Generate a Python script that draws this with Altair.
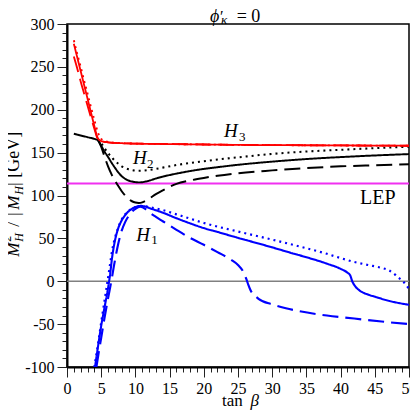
import altair as alt
import pandas as pd

# ---------------- data ----------------
h3_solid_x = [1, 1.5, 2, 2.5, 3, 3.5, 4, 4.5, 5, 6, 8, 10, 15, 20, 25, 30, 35, 40, 45, 50]
h3_solid_y = [277, 261, 245, 229, 213, 197, 181, 167, 163.5, 162, 161, 160.5, 160, 159.5, 159, 158.8, 158.6, 158.4, 158.2, 158]
h3_dash_x = [1, 1.5, 2, 2.5, 3, 3.5, 4, 4.5, 5, 6, 8, 10, 15, 20, 25, 30, 35, 40, 45, 50]
h3_dash_y = [262, 248, 233, 219, 205, 191, 178, 166, 163.5, 162, 161, 160.5, 160, 159.5, 159, 158.8, 158.6, 158.4, 158.2, 158]
h3_dot_x = [1, 1.5, 2, 2.5, 3, 3.5, 4, 4.5, 5, 5.5, 6, 8, 10, 15, 20, 25, 30, 35, 40, 45, 50]
h3_dot_y = [281, 265, 250, 234, 219, 203, 188, 174, 166, 163.5, 162.5, 161, 160.5, 160, 159.5, 159, 158.8, 158.6, 158.4, 158.2, 158]

h2_solid_x = [1, 2, 3, 4, 4.5, 5, 5.5, 6, 6.5, 7, 7.5, 8, 8.5, 9, 9.5, 10, 10.5, 11, 11.5, 12, 13, 14, 16, 18, 20, 22, 25, 30, 35, 40, 45, 50]
h2_solid_y = [172, 170, 168, 166, 164.5, 158, 151, 145, 138.5, 132.5, 127, 122.5, 119.5, 117.5, 116.3, 115.6, 115.3, 115.5, 116.3, 117.3, 119.8, 122, 125.5, 128.5, 131, 133, 135.8, 139.5, 142.5, 144.8, 146.7, 148.3]
h2_dot_x = [4.5, 5, 5.5, 6, 6.5, 7, 7.5, 8, 8.5, 9, 9.5, 10, 10.5, 11, 12, 13, 14, 16, 18, 20, 22, 25, 30, 35, 40, 45, 50]
h2_dot_y = [165.5, 161, 155, 149.5, 145, 140.5, 137, 134, 132, 130.5, 129.5, 129, 128.8, 129, 129.8, 131, 132.5, 135.5, 138, 140, 142, 144.5, 148.5, 151.3, 153.3, 155.2, 157]
h2_dash_x = [4.5, 5, 5.5, 6, 6.5, 7, 7.5, 8, 8.5, 9, 9.5, 10, 10.5, 11, 11.5, 12, 13, 14, 16, 18, 20, 22, 25, 30, 35, 40, 45, 50]
h2_dash_y = [165, 157, 145, 134, 125, 117.5, 111, 105, 100, 96, 93.3, 91.8, 91.3, 92, 93.8, 96.3, 101.5, 106, 113.5, 117.5, 120.5, 123, 126, 129.3, 132, 134, 135.3, 136.5]

h1_solid_x = [4.1, 4.5, 5, 5.5, 6, 6.3, 6.6, 7, 7.5, 8, 8.5, 9, 9.5, 10, 10.7, 11.5, 12, 14, 16, 18, 20, 22, 25, 28, 30, 33, 35, 38, 40, 41, 41.4, 41.7, 42.1, 42.5, 43, 44, 45, 47, 50]
h1_solid_y = [-100, -78, -52, -30, -8, 8, 28, 47, 62, 71, 77, 81.5, 84.5, 86.5, 87.8, 87, 85.5, 80, 73.5, 67.5, 62, 57.5, 50.6, 44, 39.5, 32.5, 28, 20.5, 14.5, 10, 7, 0, -5.5, -9, -12, -15.5, -18, -22.7, -27.5]
h1_dot_x = [4.0, 4.5, 5, 5.5, 6, 6.3, 6.6, 7, 7.5, 8, 9, 10, 10.7, 11.5, 12, 14, 16, 18, 20, 25, 30, 35, 38, 40, 42, 44, 46, 47, 48, 48.5, 49, 49.5, 50]
h1_dot_y = [-100, -75, -48, -22, 4, 20, 36, 50, 63, 72, 82, 86.5, 88, 87.5, 86.5, 83, 78, 73, 68, 58, 48.5, 38.5, 32, 27, 22.5, 19, 15.5, 13, 7.5, 4, 1, -3.5, -9]
h1_dash_x = [4.3, 4.7, 5, 5.5, 6, 6.5, 7, 7.5, 8, 8.5, 9, 9.5, 10, 10.7, 11.5, 12, 13, 14, 16, 18, 20, 22, 24, 25, 25.7, 26.2, 26.5, 26.8, 27.5, 28, 30, 32, 34, 38, 42, 46, 50]
h1_dash_y = [-100, -80, -66, -42, -20, 1, 24, 44, 59, 69, 76, 81, 84.5, 87, 84, 80.5, 75, 70, 60, 50.5, 42.5, 34, 25, 19, 12, 3, -4, -10, -17, -20.5, -27, -31.5, -35, -40, -43.5, -47, -50]

lep_value = [114]
zero_value = [0]

series_names = ["H1 dotted", "H1 dashed", "H1 solid",
                "H2 dotted", "H2 dashed", "H2 solid",
                "H3 dotted", "H3 dashed", "H3 solid"]
series_x = [h1_dot_x, h1_dash_x, h1_solid_x, h2_dot_x, h2_dash_x, h2_solid_x, h3_dot_x, h3_dash_x, h3_solid_x]
series_y = [h1_dot_y, h1_dash_y, h1_solid_y, h2_dot_y, h2_dash_y, h2_solid_y, h3_dot_y, h3_dash_y, h3_solid_y]

# ---------------- styles ----------------
series_colors = ["#0000ff"] * 3 + ["#000000"] * 3 + ["#ff0000"] * 3
DOT, DASH, SOLID = [2, 4], [16, 7], [1, 0]
series_dashes = [DOT, DASH, SOLID] * 3
series_widths = [2.2, 1.8, 1.8] * 3

rows = []
for name, xs, ys in zip(series_names, series_x, series_y):
    for i, (a, b) in enumerate(zip(xs, ys)):
        rows.append({"series": name, "tanb": a, "m": b, "i": i})
df = pd.DataFrame(rows)

FONT = "Liberation Serif"
xscale = alt.Scale(domain=[0, 50], nice=False, zero=False)
yscale = alt.Scale(domain=[-100, 300], nice=False, zero=False)
xaxis = alt.Axis(values=list(range(0, 51)),
                 labelExpr="datum.value % 5 === 0 ? '' + datum.value : ''",
                 tickSize={"condition": {"test": "datum.value % 5 === 0", "value": 10}, "value": 5},
                 title=None, grid=False, labelFlush=False, labelOverlap=False, labelPadding=3)
yaxis = alt.Axis(values=list(range(-100, 301, 10)),
                 labelExpr="datum.value % 50 === 0 ? '' + datum.value : ''",
                 tickSize={"condition": {"test": "datum.value % 50 === 0", "value": 10}, "value": 5},
                 title=None, grid=False, labelOverlap=False, labelPadding=3)


def X(field):
    return alt.X(field, scale=xscale, axis=xaxis)


def Y(field):
    return alt.Y(field, scale=yscale, axis=yaxis)


zero_rule = alt.Chart(pd.DataFrame({"v": zero_value})).mark_rule(color="#808080", strokeWidth=1.5).encode(y=Y("v:Q"))
lep_rule = alt.Chart(pd.DataFrame({"v": lep_value})).mark_rule(color="#f030f0", strokeWidth=2).encode(y=Y("v:Q"))

lines = alt.Chart(df).mark_line(interpolate="monotone", clip=True).encode(
    x=X("tanb:Q"),
    y=Y("m:Q"),
    color=alt.Color("series:N", scale=alt.Scale(domain=series_names, range=series_colors), legend=None),
    strokeDash=alt.StrokeDash("series:N", scale=alt.Scale(domain=series_names, range=series_dashes), legend=None),
    strokeWidth=alt.StrokeWidth("series:N", scale=alt.Scale(domain=series_names, range=series_widths), legend=None),
    order=alt.Order("i:Q"),
)


def dtext(txt, xv, yv, size, style="normal", dx=0, dy=0):
    return alt.Chart(pd.DataFrame({"x": [xv], "y": [yv], "t": [txt]})).mark_text(
        font=FONT, fontSize=size, fontStyle=style, align="left", baseline="alphabetic",
        dx=dx, dy=dy, color="black").encode(x=X("x:Q"), y=Y("y:Q"), text="t:N")


def ptext(txt, x, y, size, style="normal", angle=0, dx=0, dy=0):
    return alt.Chart(pd.DataFrame({"t": [txt]})).mark_text(
        font=FONT, fontSize=size, fontStyle=style, align="left", baseline="alphabetic",
        angle=angle, dx=dx, dy=dy, color="black").encode(text="t:N", x=alt.value(x), y=alt.value(y))


YT_X, YT_Y = -48, 232.7
labels = [
    dtext("H", 22.97, 167.9, 19, "italic"), dtext("3", 22.97, 167.9, 13, dx=15, dy=4),
    dtext("H", 9.64, 136.4, 19, "italic"), dtext("2", 9.64, 136.4, 13, dx=14, dy=4),
    dtext("H", 10.13, 47.3, 19, "italic"), dtext("1", 10.13, 47.3, 13, dx=15, dy=3),
    dtext("LEP", 42.83, 89.7, 20),
    # title  phi'_kappa = 0
    ptext("ϕ", 143, -2, 18, "italic"),
    ptext("′", 153, -2, 16),
    ptext("κ", 154, -2, 13, "italic", dy=2),
    ptext("= 0", 169.7, -2, 18),
    # x title
    ptext("tan", 155, 382, 17),
    ptext("β", 183.5, 382, 17, "italic"),
    # y title  M^2_H / |M_H| [GeV]  (rotated)
    ptext("M", YT_X, YT_Y, 17, "italic", angle=270),
    ptext("2", YT_X, YT_Y, 12, angle=270, dx=15, dy=-8),
    ptext("H", YT_X, YT_Y, 12, "italic", angle=270, dx=15, dy=4),
    ptext("/", YT_X, YT_Y, 17, angle=270, dx=30),
    ptext("|", YT_X, YT_Y, 17, angle=270, dx=41),
    ptext("M", YT_X, YT_Y, 17, "italic", angle=270, dx=47),
    ptext("H", YT_X, YT_Y, 12, "italic", angle=270, dx=62, dy=4),
    ptext("|", YT_X, YT_Y, 17, angle=270, dx=71),
    ptext("[GeV]", YT_X, YT_Y, 18, angle=270, dx=79),
]

chart = alt.layer(zero_rule, lep_rule, lines, *labels).properties(
    width=342, height=343,
    autosize=alt.AutoSizeParams(type="none"),
    padding={"left": 59, "top": 16, "right": 1, "bottom": 43},
).configure_view(stroke="black", strokeWidth=1.5).configure_axis(
    domainColor="black", domainWidth=2, tickColor="#222222", tickWidth=1,
    labelFont=FONT, labelFontSize=16, labelColor="black",
)

chart.save("out.html", embed_options={"renderer": "svg", "actions": False})
